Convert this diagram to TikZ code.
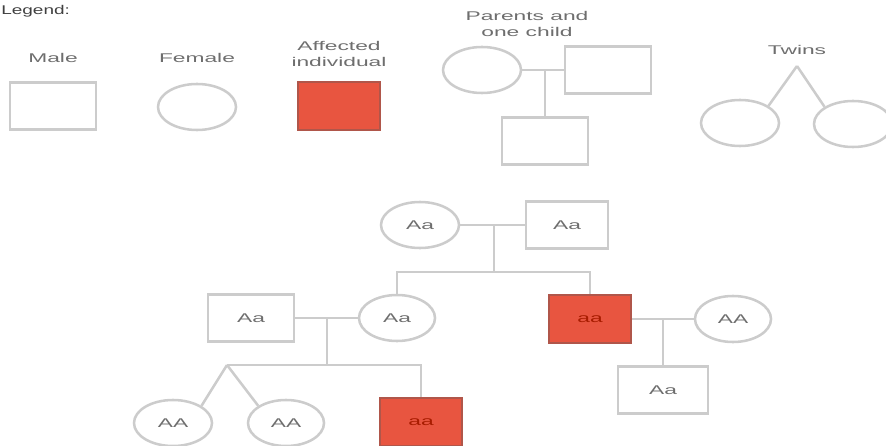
\documentclass[tikz,border=0pt]{standalone}
\usepackage{fontspec}
\setmainfont{Liberation Sans}
\usepackage{graphicx}
\usetikzlibrary{positioning, calc}
\usetikzlibrary{shapes.geometric}

\definecolor{linegray}{HTML}{CCCCCC}
\definecolor{textgray}{HTML}{6E6E6E}
\definecolor{affred}{HTML}{E85540}
\definecolor{affedge}{HTML}{B0564A}
\definecolor{afftext}{HTML}{A81C00}

\newcommand{\wide}[1]{\scalebox{1.8}[1]{#1}}

\tikzset{
	lbl/.style={text=textgray, font=\fontsize{9}{11}\selectfont, inner sep=0pt},
	male/.style={draw=linegray, line width=1.8pt, minimum width=2.15cm, minimum height=1.18cm, lbl},
	female/.style={ellipse, draw=linegray, line width=1.8pt, minimum width=1.95cm, minimum height=1.15cm, lbl},
	affected/.style={draw=affedge, line width=1.8pt, fill=affred, minimum width=2.05cm, minimum height=1.2cm, lbl, text=afftext},
	link/.style={draw=linegray, line width=1.8pt}
}

\begin{document}
\begin{tikzpicture}[x=0.025cm, y=-0.025cm]
			\useasboundingbox (0,0) rectangle (886,446);
			% legend
			\node[lbl, text=black!75, anchor=west] (legend) at (1,11) {\scalebox{1.5}[1]{Legend:}};
			\node[lbl] (tmale) at (53,58) {\wide{Male}};
			\node[male] (lmale) at (53,106) {};
			\node[lbl] (tfemale) at (197,58) {\wide{Female}};
			\node[female] (lfemale) at (197,107) {};
			\node[lbl, align=center] (taff) at (339,54) {\wide{Affected}\\[1pt]\wide{individual}};
			\node[affected] (laff) at (339,106) {};
			\node[lbl, align=center] (tpar) at (527,24) {\wide{Parents and}\\[1pt]\wide{one child}};
			\node[female] (lmother) at (482,70) {};
			\node[male] (lfather) at (608,70) {};
			\node[male] (lchild) at (545,141) {};
			\coordinate (lmid) at (545,70);
			\draw[link] (lmother) -- (lfather);
			\draw[link] (lmid) -- (lchild);
			\node[lbl] (ttwins) at (797,50) {\wide{Twins}};
			\coordinate (ltop) at (797,66);
			\node[female] (ltwina) at (740,123) {};
			\node[female] (ltwinb) at (853,124) {};
			\draw[link] (ltop) -- (ltwina.north east);
			\draw[link] (ltop) -- (ltwinb.north west);
			% pedigree
			\node[female] (gma) at (420,225) {\wide{Aa}};
			\node[male, minimum width=2.05cm] (gpa) at (567,225) {\wide{Aa}};
			\coordinate (gmid) at (494,225);
			\coordinate (gdrop) at (494,272);
			\draw[link] (gma) -- (gpa);
			\draw[link] (gmid) -- (gdrop);
			\node[male] (dad) at (251,318) {\wide{Aa}};
			\node[female, minimum width=1.9cm] (mom) at (397,318) {\wide{Aa}};
			\node[affected] (son) at (590,319) {\wide{aa}};
			\node[female, minimum width=1.9cm] (wife) at (733,319) {\wide{AA}};
			\draw[link] (mom.north) |- (gdrop) -| (son.north);
			\draw[link] (dad) -- (mom);
			\draw[link] (son) -- (wife);
			\coordinate (pmid) at (327,318);
			\coordinate (pdrop) at (327,365);
			\coordinate (ptwin) at (227,365);
			\coordinate (smid) at (663,319);
			\node[female] (twina) at (173,423) {\wide{AA}};
			\node[female, minimum width=1.9cm] (twinb) at (286,423) {\wide{AA}};
			\node[affected] (girl) at (421,422) {\wide{aa}};
			\node[male, minimum width=2.25cm] (grandson) at (663,390) {\wide{Aa}};
			\draw[link] (pmid) -- (pdrop);
			\draw[link] (ptwin) -| (girl.north);
			\draw[link] (ptwin) -- (twina.north east);
			\draw[link] (ptwin) -- (twinb.north west);
			\draw[link] (smid) -- (grandson);
			\end{tikzpicture}
\end{document}
